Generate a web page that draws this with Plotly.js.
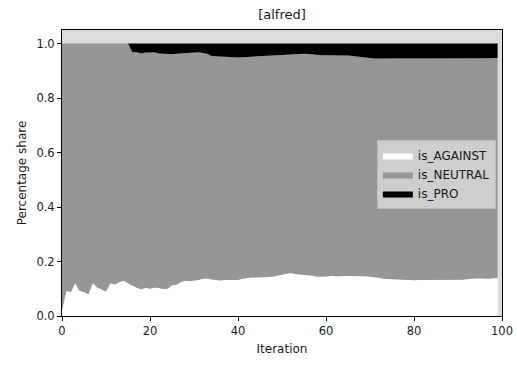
<!DOCTYPE html>
<html>
<head>
<meta charset="utf-8">
<script src="https://cdn.plot.ly/plotly-3.0.1.min.js"></script>
<style>html,body{margin:0;padding:0;background:#fff;}#chart{width:517px;height:367px;}</style>
</head>
<body>
<div id="chart"></div>
<script>
const iterations = [0,1,2,3,4,5,6,7,8,9,10,11,12,13,14,15,16,17,18,19,20,21,22,23,24,25,26,27,28,29,30,31,32,33,34,35,36,37,38,39,40,41,42,43,44,45,46,47,48,49,50,51,52,53,54,55,56,57,58,59,60,61,62,63,64,65,66,67,68,69,70,71,72,73,74,75,76,77,78,79,80,81,82,83,84,85,86,87,88,89,90,91,92,93,94,95,96,97,98,99];

const isAgainst = [0.02,0.092,0.088,0.12,0.092,0.088,0.08,0.12,0.105,0.098,
  0.09,0.12,0.116,0.124,0.129,0.12,0.111,0.104,0.098,0.104,
  0.100,0.105,0.103,0.099,0.1,0.113,0.115,0.125,0.129,0.128,
  0.130,0.132,0.137,0.138,0.134,0.132,0.130,0.132,0.132,0.131,
  0.132,0.137,0.14,0.141,0.141,0.141,0.142,0.143,0.145,0.148,
  0.151,0.154,0.158,0.154,0.153,0.152,0.150,0.148,0.144,0.144,
  0.145,0.147,0.146,0.146,0.147,0.147,0.148,0.148,0.146,0.146,
  0.144,0.143,0.140,0.137,0.136,0.134,0.133,0.132,0.131,0.130,
  0.131,0.132,0.132,0.132,0.133,0.134,0.133,0.132,0.132,0.132,
  0.133,0.133,0.135,0.137,0.138,0.138,0.137,0.137,0.139,0.14];

const isNeutral = [0.98,0.908,0.912,0.88,0.908,0.912,0.92,0.88,0.895,0.902,
  0.91,0.88,0.884,0.876,0.871,0.88,0.857,0.864,0.866,0.863,
  0.867,0.863,0.861,0.864,0.864,0.848,0.848,0.839,0.838,0.840,
  0.839,0.836,0.829,0.825,0.821,0.822,0.823,0.819,0.817,0.818,
  0.817,0.813,0.811,0.810,0.811,0.811,0.811,0.812,0.811,0.809,
  0.808,0.806,0.803,0.807,0.809,0.811,0.812,0.812,0.814,0.813,
  0.812,0.810,0.812,0.812,0.810,0.809,0.807,0.805,0.805,0.803,
  0.802,0.802,0.805,0.808,0.810,0.812,0.813,0.814,0.815,0.816,
  0.814,0.813,0.813,0.813,0.812,0.811,0.812,0.813,0.812,0.812,
  0.812,0.812,0.810,0.808,0.808,0.808,0.809,0.809,0.808,0.807];

const isPro = [0,0,0,0,0,0,0,0,0,0,
  0,0,0,0,0,0,0.032,0.032,0.036,0.033,
  0.033,0.032,0.036,0.037,0.036,0.039,0.037,0.036,0.033,0.032,
  0.031,0.032,0.034,0.037,0.045,0.046,0.047,0.049,0.051,0.051,
  0.051,0.050,0.049,0.049,0.048,0.048,0.047,0.045,0.044,0.043,
  0.041,0.040,0.039,0.039,0.038,0.037,0.038,0.040,0.042,0.043,
  0.043,0.043,0.042,0.042,0.043,0.044,0.045,0.047,0.049,0.051,
  0.054,0.055,0.055,0.055,0.054,0.054,0.054,0.054,0.054,0.054,
  0.055,0.055,0.055,0.055,0.055,0.055,0.055,0.055,0.056,0.056,
  0.055,0.055,0.055,0.055,0.054,0.054,0.054,0.054,0.053,0.053];

const seriesNames = ['is_AGAINST','is_NEUTRAL','is_PRO'];
const seriesColors = ['#ffffff','#969696','#000000'];
const seriesValues = [isAgainst, isNeutral, isPro];

const traces = seriesValues.map((vals, k) => ({
  type: 'scatter',
  mode: 'lines',
  x: iterations,
  y: vals,
  name: seriesNames[k],
  stackgroup: 'one',
  line: {width: 0, color: seriesColors[k]},
  fillcolor: seriesColors[k],
  hoverinfo: 'skip'
}));

const font = {family: 'DejaVu Sans, sans-serif', color: '#1a1a1a'};

const layout = {
  width: 517, height: 367,
  margin: {l: 62, r: 15, t: 30, b: 51, pad: 0},
  paper_bgcolor: '#ffffff',
  plot_bgcolor: '#dcdcdc',
  font: Object.assign({size: 11.5}, font),
  title: {text: '[alfred]', font: Object.assign({size: 13}, font), x: 0.5, xref: 'paper', xanchor: 'center', y: 1, yref: 'container', yanchor: 'top', pad: {t: 10}},
  xaxis: {
    range: [0, 100],
    tickvals: [0, 20, 40, 60, 80, 100],
    ticktext: ['0', '20', '40', '60', '80', '100'],
    showgrid: false, zeroline: false,
    showline: true, mirror: true, linecolor: '#000', linewidth: 1,
    ticks: 'outside', ticklen: 4, tickcolor: '#000', tickwidth: 1,
    tickfont: Object.assign({size: 11.5}, font),
    title: {text: 'Iteration', font: Object.assign({size: 12}, font), standoff: 7}
  },
  yaxis: {
    range: [0, 1.05],
    tickvals: [0, 0.2, 0.4, 0.6, 0.8, 1.0],
    ticktext: ['0.0', '0.2', '0.4', '0.6', '0.8', '1.0'],
    showgrid: false, zeroline: false,
    showline: true, mirror: true, linecolor: '#000', linewidth: 1,
    ticks: 'outside', ticklen: 4, tickcolor: '#000', tickwidth: 1,
    tickfont: Object.assign({size: 11.5}, font),
    title: {text: 'Percentage share', font: Object.assign({size: 12}, font), standoff: 7}
  },
  showlegend: true,
  legend: {
    x: 0.986, xanchor: 'right', y: 0.615, yanchor: 'top',
    bgcolor: '#cecece', bordercolor: '#bdbdbd', borderwidth: 1,
    traceorder: 'normal',
    font: Object.assign({size: 12}, font),
    itemwidth: 30, tracegroupgap: 0
  }
};

Plotly.newPlot('chart', traces, layout, {displayModeBar: false, staticPlot: true});
</script>
</body>
</html>
